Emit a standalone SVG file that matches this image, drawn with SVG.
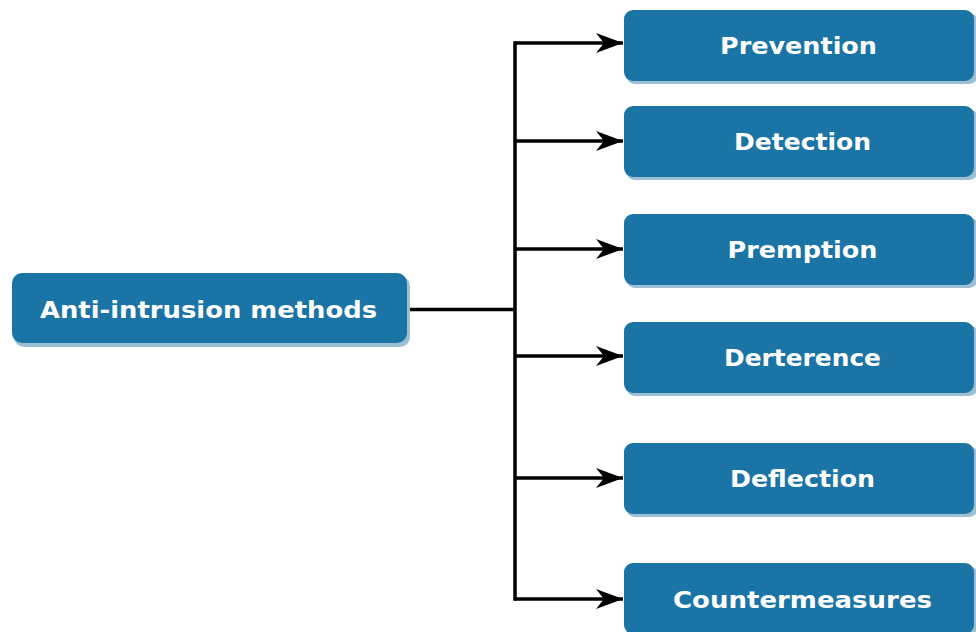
<svg xmlns="http://www.w3.org/2000/svg" width="976" height="632" viewBox="0 0 976 632">
<defs>
<style>
.box{fill:#1a74a5;}
.sh{fill:#9dbfd3;}
.lbl{fill:#ffffff;font-family:"DejaVu Sans","Liberation Sans",sans-serif;font-weight:bold;font-size:23px;text-anchor:middle;dominant-baseline:central;}
.conn{fill:none;stroke:#000000;stroke-width:3.5;}
</style>
<marker id="arr" markerUnits="userSpaceOnUse" markerWidth="30" markerHeight="24" refX="27" refY="12" orient="auto">
<path d="M0,2 L27,12 L0,22 L8,12 Z" fill="#000000"/>
</marker>
</defs>
<rect width="976" height="632" fill="#ffffff"/>
<g id="connectors">
<path class="conn" d="M407,309.5 H515"/>
<path class="conn" d="M515,41.25 V600.75"/>
<path class="conn" d="M515,43 H623" marker-end="url(#arr)"/>
<path class="conn" d="M515,141 H623" marker-end="url(#arr)"/>
<path class="conn" d="M515,249 H623" marker-end="url(#arr)"/>
<path class="conn" d="M515,356 H623" marker-end="url(#arr)"/>
<path class="conn" d="M515,478 H623" marker-end="url(#arr)"/>
<path class="conn" d="M515,599 H623" marker-end="url(#arr)"/>
</g>
<g id="root">
<rect class="sh" x="14" y="276" width="396" height="71" rx="10"/>
<rect class="box" x="12" y="273" width="395" height="70" rx="10"/>
<text class="lbl" x="208.5" y="310" textLength="337" lengthAdjust="spacingAndGlyphs">Anti-intrusion methods</text>
</g>
<g id="prevention">
<rect class="sh" x="626" y="13" width="352" height="71" rx="9"/>
<rect class="box" x="624" y="10" width="350" height="71" rx="9"/>
<text class="lbl" x="798.5" y="46" textLength="157" lengthAdjust="spacingAndGlyphs">Prevention</text>
</g>
<g id="detection">
<rect class="sh" x="626" y="109" width="352" height="71" rx="9"/>
<rect class="box" x="624" y="106" width="350" height="71" rx="9"/>
<text class="lbl" x="802.5" y="142" textLength="137" lengthAdjust="spacingAndGlyphs">Detection</text>
</g>
<g id="premption">
<rect class="sh" x="626" y="217" width="352" height="71" rx="9"/>
<rect class="box" x="624" y="214" width="350" height="71" rx="9"/>
<text class="lbl" x="802.5" y="250" textLength="150" lengthAdjust="spacingAndGlyphs">Premption</text>
</g>
<g id="derterence">
<rect class="sh" x="626" y="325" width="352" height="71" rx="9"/>
<rect class="box" x="624" y="322" width="350" height="71" rx="9"/>
<text class="lbl" x="802.5" y="358" textLength="157" lengthAdjust="spacingAndGlyphs">Derterence</text>
</g>
<g id="deflection">
<rect class="sh" x="626" y="446" width="352" height="71" rx="9"/>
<rect class="box" x="624" y="443" width="350" height="71" rx="9"/>
<text class="lbl" x="802.5" y="479" textLength="145" lengthAdjust="spacingAndGlyphs">Deflection</text>
</g>
<g id="countermeasures">
<rect class="sh" x="626" y="566" width="352" height="71" rx="9"/>
<rect class="box" x="624" y="563" width="350" height="71" rx="9"/>
<text class="lbl" x="802.5" y="600" textLength="259" lengthAdjust="spacingAndGlyphs">Countermeasures</text>
</g>
</svg>
